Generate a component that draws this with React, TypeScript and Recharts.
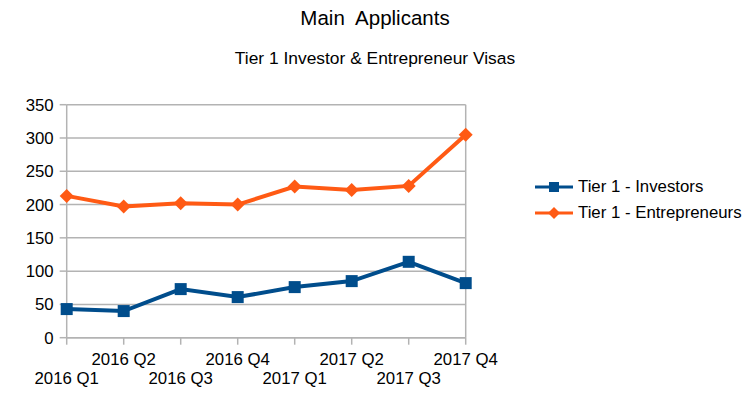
import { LineChart, Line, XAxis, YAxis, CartesianGrid } from "recharts";

const quarters = ["2016 Q1", "2016 Q2", "2016 Q3", "2016 Q4", "2017 Q1", "2017 Q2", "2017 Q3", "2017 Q4"];
const investors = [43, 40, 73, 61, 76, 85, 114, 82];
const entrepreneurs = [213, 197, 202, 200, 227, 222, 228, 305];
const yTicks = [0, 50, 100, 150, 200, 250, 300, 350];

const BLUE = "#004d8c";
const ORANGE = "#ff5a14";
const GRID = "#b3b3b3";
const FONT = "'Liberation Sans', Arial, sans-serif";

const data = quarters.map((q, i) => ({
  quarter: q,
  investors: investors[i],
  entrepreneurs: entrepreneurs[i],
}));

function SquareDot(props: any) {
  const { cx, cy } = props;
  if (cx == null || cy == null) return null;
  return <rect x={cx - 6} y={cy - 6} width={12} height={12} fill={BLUE} />;
}

function DiamondDot(props: any) {
  const { cx, cy } = props;
  if (cx == null || cy == null) return null;
  const r = 7;
  return <path d={`M${cx},${cy - r}L${cx + r},${cy}L${cx},${cy + r}L${cx - r},${cy}Z`} fill={ORANGE} />;
}

function QuarterTick(props: any) {
  const { x, y, payload, index } = props;
  const dy = index % 2 === 1 ? 18 : 37.5;
  return (
    <text x={x} y={y + dy} textAnchor="middle" fill="#000" fontSize={16.8} fontFamily={FONT}>
      {payload.value}
    </text>
  );
}

function LegendRow({ label, color, square, top }: { label: string; color: string; square: boolean; top: number }) {
  return (
    <div style={{ position: "absolute", left: 535, top: top - 10, height: 20, display: "flex", alignItems: "center" }}>
      <svg width={40} height={20}>
        <line x1={0} y1={10} x2={38} y2={10} stroke={color} strokeWidth={3} />
        {square ? (
          <rect x={14} y={5} width={10} height={10} fill={color} />
        ) : (
          <path d="M19,4L25,10L19,16L13,10Z" fill={color} />
        )}
      </svg>
      <span style={{ fontFamily: FONT, fontSize: 16.8, color: "#000", marginLeft: 3, whiteSpace: "nowrap" }}>{label}</span>
    </div>
  );
}

export default function App() {
  return (
    <div style={{ position: "absolute", left: 0, top: 0, width: 750, height: 405, background: "#fff" }}>
      <div style={{ position: "absolute", left: 0, width: 750, top: 6, textAlign: "center", fontFamily: FONT, fontSize: 20.5, color: "#000" }}>
        Main&nbsp; Applicants
      </div>
      <div style={{ position: "absolute", left: 0, width: 750, top: 48, textAlign: "center", fontFamily: FONT, fontSize: 17.4, color: "#000" }}>
        Tier 1 Investor &amp; Entrepreneur Visas
      </div>
      <LineChart width={750} height={405} data={data} margin={{ top: 104.7, right: 284.3, bottom: 0, left: 0 }}>
        <CartesianGrid
          stroke={GRID}
          strokeWidth={1.5}
          vertical={true}
          verticalCoordinatesGenerator={(p: any) => [p.offset.left + p.offset.width]}
        />
        <XAxis
          dataKey="quarter"
          height={67.3}
          interval={0}
          tick={<QuarterTick />}
          tickSize={7}
          tickMargin={2}
          stroke={GRID}
          strokeWidth={1.5}
        />
        <YAxis
          width={66.7}
          domain={[0, 350]}
          ticks={yTicks}
          interval={0}
          tickSize={7}
          tickMargin={6}
          stroke={GRID}
          strokeWidth={1.5}
          tick={{ fill: "#000", fontSize: 16.8, fontFamily: FONT }}
        />
        <Line
          type="linear"
          dataKey="entrepreneurs"
          stroke={ORANGE}
          strokeWidth={4}
          dot={<DiamondDot />}
          activeDot={false}
          isAnimationActive={false}
        />
        <Line
          type="linear"
          dataKey="investors"
          stroke={BLUE}
          strokeWidth={4}
          dot={<SquareDot />}
          activeDot={false}
          isAnimationActive={false}
        />
      </LineChart>
      <LegendRow label="Tier 1 - Investors" color={BLUE} square={true} top={187} />
      <LegendRow label="Tier 1 - Entrepreneurs" color={ORANGE} square={false} top={213} />
    </div>
  );
}
